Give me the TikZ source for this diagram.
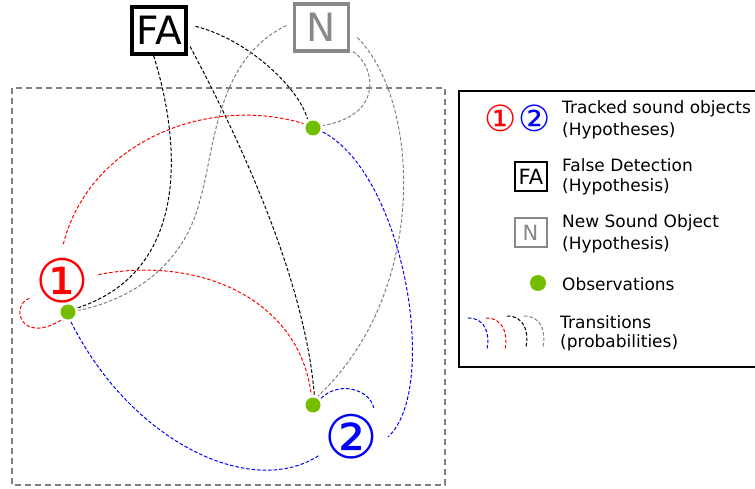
\documentclass[tikz,border=0pt]{standalone}
\usepackage{fontspec}
\setmainfont{DejaVu Sans}
\definecolor{obsgreen}{RGB}{116,190,0}
\definecolor{ngray}{RGB}{136,136,136}
\definecolor{lgray}{RGB}{128,128,128}
\begin{document}
\begin{tikzpicture}[x=1pt,y=-1pt,
  tr/.style={line width=1pt, dash pattern=on 3.5pt off 2pt},
  trred/.style={tr, red},
  trblue/.style={tr, blue},
  trblack/.style={tr, black},
  trgray/.style={tr, lgray},
  obs/.style={circle, fill=obsgreen, minimum size=15pt, inner sep=0pt, outer sep=3pt},
  bigbox/.style={draw, line width=3.5pt, inner sep=0pt, minimum width=54pt, minimum height=47pt, font=\fontsize{39}{39}\selectfont},
  smallbox/.style={draw, line width=2pt, inner sep=0pt, minimum width=32pt, minimum height=29pt, font=\fontsize{21}{21}\selectfont},
  hyp/.style={circle, inner sep=0pt, minimum size=42pt, outer sep=2pt, font=\fontsize{60}{60}\selectfont},
  lhyp/.style={inner sep=0pt, font=\fontsize{36}{36}\selectfont},
  ltext/.style={anchor=west, align=left, inner sep=0pt, font=\fontsize{17}{22}\selectfont},
]
\clip (0,0) rectangle (755,489);
\fill[white] (0,0) rectangle (755,489);
% frame
\draw[lgray, line width=1.3pt, dash pattern=on 6pt off 4pt] (12,88) rectangle (445,485);
% hypothesis boxes
\node[bigbox, black] (FA) at (159,30.5) {FA};
\node[bigbox, draw=ngray, text=ngray] (N) at (321.5,27.5) {N};
% observations
\node[obs] (O1) at (313,128) {};
\node[obs] (O2) at (68,312) {};
\node[obs] (O3) at (313,405) {};
% tracked objects
\node[hyp, text=red] (C1) at (62,281) {①};
\node[hyp, text=blue] (C2) at (351,437) {②};
% black transitions
\draw[trblack] (FA.-102) .. controls (180,140) and (192,270) .. (O2.23);
\draw[trblack, shorten <=8pt] (FA.12) .. controls (250,40) and (300,90) .. (O1.122);
\draw[trblack, shorten <=5pt] (FA.-22) .. controls (240,140) and (305,280) .. (O3.83);
% gray transitions
\draw[trgray, shorten <=7pt] (N.170) .. controls (215,60) and (215,150) .. (200,200) .. controls (188,250) and (150,295) .. (O2.8);
\draw[trgray, shorten <=3pt] (N.-38) .. controls (375,65) and (385,115) .. (O1.14);
\draw[trgray, shorten <=10pt] (N.-6) .. controls (420,100) and (430,290) .. (O3.60);
% red transitions
\draw[trred] (C1.88) .. controls (90,140) and (210,95) .. (O1.155);
\draw[trred] (C1.10) .. controls (200,255) and (300,300) .. (O3.100);
\draw[trred] (C1.-152) .. controls (10,305) and (20,345) .. (O2.-130);
% blue transitions
\draw[trblue] (O1.-22) .. controls (405,175) and (440,390) .. (C2.0);
\draw[trblue] (O2.-73) .. controls (130,440) and (250,500) .. (C2.-150);
\draw[trblue] (O3.40) .. controls (340,380) and (370,390) .. (C2.52);
% legend
\node[draw, line width=2pt, minimum width=341pt, minimum height=276pt, inner sep=0pt] (L) at (629.5,229) {};
\node[lhyp, text=red] (L1) at (501,118) {①};
\node[lhyp, text=blue] (L2) at (535,118) {②};
\node[ltext] (T1) at (562,109) {Tracked sound objects};
\node[ltext] (T1b) at (562,131) {(Hypotheses)};
\node[smallbox, black] (LFA) at (531,176.5) {FA};
\node[ltext] (T2) at (562,165) {False Detection};
\node[ltext] (T2b) at (562,187) {(Hypothesis)};
\node[smallbox, draw=ngray, text=ngray] (LN) at (530.5,232.5) {N};
\node[ltext] (T3) at (562,223) {New Sound Object};
\node[ltext] (T3b) at (562,245) {(Hypothesis)};
\node[obs, minimum size=16pt] (LO) at (538,283) {};
\node[ltext] (T4) at (562,284) {Observations};
\coordinate (a1) at (468,318); \coordinate (a2) at (487,349);
\coordinate (b1) at (486,318); \coordinate (b2) at (505,349);
\coordinate (c1) at (507,316); \coordinate (c2) at (526,347);
\coordinate (d1) at (524,316); \coordinate (d2) at (543,347);
\draw[trblue] (a1) .. controls (486,318) and (490,335) .. (a2);
\draw[trred] (b1) .. controls (504,318) and (508,335) .. (b2);
\draw[trblack] (c1) .. controls (525,316) and (529,333) .. (c2);
\draw[trgray] (d1) .. controls (542,316) and (546,333) .. (d2);
\node[ltext] (T5) at (560,322) {Transitions};
\node[ltext] (T5b) at (560,343) {(probabilities)};
\end{tikzpicture}
\end{document}
